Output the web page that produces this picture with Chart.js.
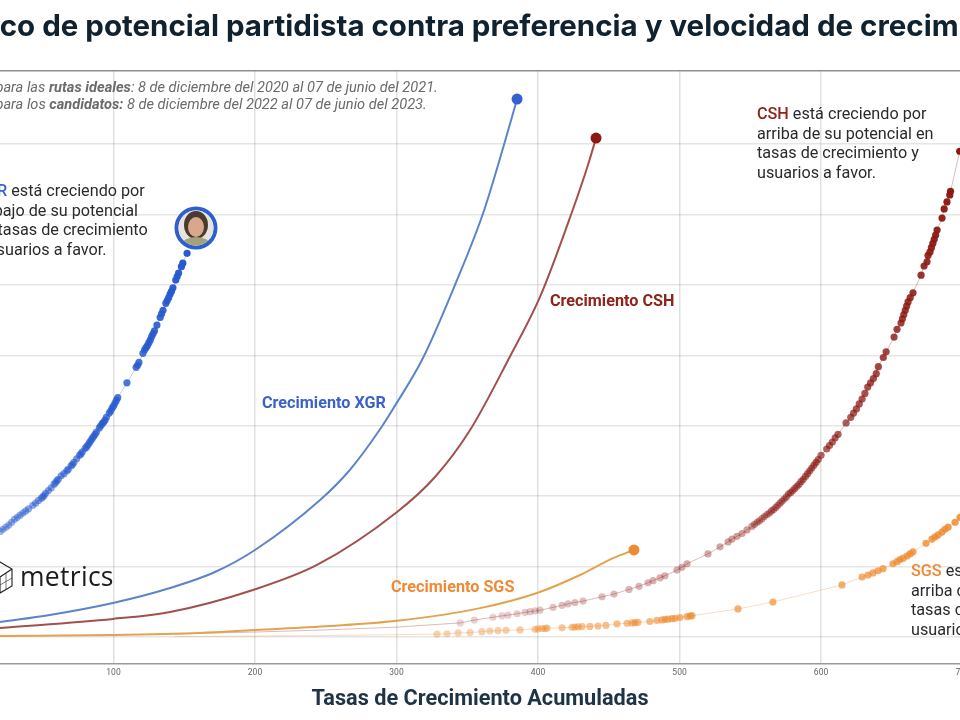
<!DOCTYPE html>
<html lang="es">
<head>
<meta charset="utf-8">
<title>Gráfico de potencial partidista</title>
<script src="https://cdn.jsdelivr.net/npm/chart.js@4"></script>
<style>
  html, body { margin: 0; padding: 0; background: #fff; }
  #wrap { position: relative; width: 960px; height: 720px; overflow: hidden; font-family: Roboto, sans-serif; }
  canvas { position: absolute; left: 0; top: 0; }
  .note, .label, .sub, .brand, .title { position: absolute; white-space: nowrap; }
  .title { left: 480px; top: 7px; transform: translateX(-50%); font: 700 29.5px/37px Inter, sans-serif; color: #10222f; }
  .note { font-size: 16.2px; line-height: 19.6px; color: #2b2b2b; }
  .label { font-size: 16.2px; font-weight: 700; }
  .sub { left: -45px; top: 79px; font-size: 14.6px; line-height: 17px; font-style: italic; color: #6b6b6b; }
  .brand { left: 20px; top: 558px; font: 400 26.5px "Open Sans", sans-serif; color: #1c1c1c; letter-spacing: .3px; }
  .blue { color: #3a62c8; } .red { color: #8f2219; } .orange { color: #ee8a35; }
</style>
</head>
<body>
<div id="wrap">
  <canvas id="chart" width="960" height="720"></canvas>
  <div class="title">Gráfico de potencial partidista contra preferencia y velocidad de crecimiento</div>
  <div class="sub">Datos para las <b>rutas ideales</b>: 8 de diciembre del 2020 al 07 de junio del 2021.<br>Datos para los <b>candidatos:</b> 8 de diciembre del 2022 al 07 de junio del 2023.</div>
  <div class="note" style="left:-24px;top:181px"><b class="blue" style="font-weight:500">XGR</b> está creciendo por<br>debajo de su potencial<br>en tasas de crecimiento<br>y usuarios a favor.</div>
  <div class="note" style="left:757px;top:104px"><b class="red" style="font-weight:500">CSH</b> está creciendo por<br>arriba de su potencial en<br>tasas de crecimiento y<br>usuarios a favor.</div>
  <div class="note" style="left:911px;top:561px"><b class="orange" style="font-weight:500">SGS</b> está creciendo por<br>arriba de su potencial en<br>tasas de crecimiento y<br>usuarios a favor.</div>
  <div class="label blue" style="left:262px;top:393px">Crecimiento XGR</div>
  <div class="label red" style="left:550px;top:291px">Crecimiento CSH</div>
  <div class="label orange" style="left:391px;top:577px">Crecimiento SGS</div>
  <svg style="position:absolute;left:-14px;top:560px" width="28" height="35" viewBox="-14 560 28 35" fill="none" stroke="#222" stroke-width="1.1">
    <path d="M0 562L12 569V586L0 593L-12 586V569ZM0 577L12 569M0 577L-12 569M0 577V593"/>
    <path d="M6 573V589M-6 573V589M0 585L12 578" stroke-width=".6"/>
  </svg>
  <div class="brand">metrics</div>
</div>
<script>
const xAxisTitle = 'Tasas de Crecimiento Acumuladas';
const xMin = 19.8, xMax = 698.2, yMin = -38.4, yMax = 804;
const xTicks = [100, 200, 300, 400, 500, 600, 700];
const yTicks = [0, 100, 200, 300, 400, 500, 600, 700, 804];

// rutas ideales
const idealXgrX = [19.8, 55, 99.6, 140, 171.7, 200, 246, 267, 288, 297.5, 318.7, 341.3, 361, 375.3, 385.2];
const idealXgrY = [21.3, 31.3, 48.3, 69.6, 92.3, 123.6, 194.6, 237.2, 294, 323.9, 396.3, 500, 600.9, 694.6, 764.2];
const idealCshX = [19.8, 99.6, 140, 198.6, 243.8, 300.4, 327.2, 352, 380, 401.4, 424, 435.3, 441];
const idealCshY = [12.8, 25.6, 35.5, 66.8, 102.3, 177.6, 227.3, 294, 397.7, 483, 603.7, 670.5, 708.8];
const idealSgsX = [19.8, 99.6, 161, 200, 253, 300.4, 359, 399.3, 429.7, 453, 467.8];
const idealSgsY = [1.4, 2.8, 5.7, 9.9, 15.6, 23, 41, 62.5, 88, 112, 123.6];

// candidatos
const xgrX = [20, 22, 24, 26, 28, 30, 32, 34, 36, 38, 40, 43, 45, 47, 49, 50, 51, 52, 54, 56, 58, 59, 60, 61, 63, 65, 67, 68, 70, 71, 72, 74, 76, 77, 78, 80, 81, 82, 83, 84, 85, 86, 87, 88, 90, 91, 92, 93, 94, 95, 97, 98, 99, 100, 101, 102, 103, 109.5, 116, 117, 118, 120.8, 122, 123, 124, 125, 126, 127, 128, 129, 130.7, 133, 134, 135, 137, 138, 139, 140, 141, 142, 144, 145, 146, 148, 149, 152];
const xgrY = [150, 153, 156, 159, 163, 167, 170, 173, 176, 179, 182, 187, 190, 194, 197, 199, 201, 204, 208, 212, 217, 219, 222, 224, 229, 232, 236, 238, 243, 245, 248, 253, 258, 260, 263, 268, 270, 273, 276, 279, 282, 285, 288, 291, 297, 300, 303, 305, 308, 312, 318, 321, 325, 328, 332, 336, 340, 361, 383, 386, 390, 403, 408, 411, 414, 418, 422, 427, 431, 435, 443, 454, 459, 464, 474, 478, 482, 487, 491, 496, 507, 512, 517, 526, 531, 545];
const cshX = [143.5, 200, 250, 300, 330, 345, 355, 368.2, 374.5, 378.8, 385.2, 390.8, 394.4, 397.9, 401.4, 410.6, 417, 421.2, 426.1, 431.8, 445.2, 453.7, 464.3, 471.4, 477.7, 481.3, 486.2, 489.7, 498.2, 501.7, 505.3, 520.1, 528.6, 534.3, 537.1, 540.6, 544.2, 547.7, 551.2, 553, 554.8, 556.5, 558.3, 560, 561.8, 563.5, 565, 566.5, 568, 569.5, 571, 572.5, 574, 575.5, 577, 578.5, 580, 581.5, 583, 584.5, 586, 587.5, 589, 590.5, 592, 593.5, 595, 596.5, 598, 600, 604, 606, 608, 610, 612, 617.7, 621, 623, 625, 627, 629, 631, 633, 635, 637, 639, 640.5, 644, 646, 651.6, 653.7, 656.5, 657.5, 658.5, 659.5, 660.5, 661.5, 663, 665, 670.7, 672.8, 674.9, 675.6, 677, 678, 679, 680, 681, 682, 685.5, 687, 689, 691, 691.5, 698];
const cshY = [4.3, 7, 10, 14, 18, 20, 24, 28, 30, 31, 33, 35, 36, 37, 38, 42, 45, 47, 49, 51, 57, 61, 67.5, 72, 77, 80, 84, 87, 95, 99, 104, 118, 128, 135, 139, 143, 147, 152, 157, 160, 163, 165, 168, 171, 174, 176, 179, 181, 184, 187, 190, 193, 196, 199, 203, 205, 208, 211, 214, 217, 221, 224, 228, 232, 236, 240, 244, 248, 252, 258, 267, 272, 277, 283, 288, 304, 312, 318, 324, 331, 338, 346, 355, 361, 367, 374, 384, 397, 405, 426, 437, 446, 452, 458, 464, 470, 476, 482, 489, 514, 527, 533, 542, 547, 553, 559, 565, 571, 578, 595, 608, 618, 628, 633, 690];
const sgsX = [143, 250, 328.6, 335.7, 343.5, 352, 360.4, 366, 371.7, 377.4, 387.3, 397.9, 400, 402.8, 405, 406.4, 417, 424, 426.1, 428.3, 431.1, 436.7, 442.4, 448, 455.8, 462.9, 466.4, 468.5, 470.6, 479, 484, 487.6, 489.7, 491.8, 494.6, 496.8, 500.3, 505.3, 507.4, 508.8, 541.3, 566, 614.8, 629, 633.2, 636.7, 640.3, 643.8, 650.8, 653.7, 655.8, 658, 660.8, 662.9, 665, 674.2, 678.4, 680.5, 682.7, 685.5, 687.6, 689.8, 694.7, 698.2];
const sgsY = [0.5, 2, 4, 4.6, 5.7, 6.3, 7.5, 8.5, 9, 9.5, 10, 11, 11.5, 12, 12, 12.5, 13, 13.8, 14, 14.2, 14.7, 15, 15.6, 16.5, 18.5, 19.5, 20, 20.5, 20.8, 22, 23.5, 24.2, 25, 25.3, 26, 26.5, 27.5, 29, 29.8, 30.2, 39.8, 49.7, 73.9, 85.2, 88, 91, 94, 97, 104, 107, 110, 112, 115, 118, 121, 133, 139, 142, 145, 149, 153, 156, 163, 170];
const xgrPhotoX = [158.3];
const xgrPhotoY = [581];

const toPoints = (xs, ys) => xs.map((x, i) => ({ x: x, y: ys[i] }));

function idealLine(xs, ys, lineColor, dotColor) {
  const last = xs.length - 1;
  return {
    data: toPoints(xs, ys),
    showLine: true,
    borderColor: lineColor,
    borderWidth: 2,
    cubicInterpolationMode: 'monotone',
    pointRadius: ctx => ctx.dataIndex === last ? 5.5 : 0,
    pointBackgroundColor: dotColor,
    pointBorderWidth: 0
  };
}

// lineOnly: the first few values only carry the thin line, no dot
function candidate(xs, ys, rgb, lo, hi, lineOnly) {
  const last = xs.length - 1;
  return {
    data: toPoints(xs, ys),
    showLine: true,
    borderColor: `rgba(${rgb},0.3)`,
    borderWidth: 1,
    pointRadius: ctx => ctx.dataIndex < lineOnly ? 0 : 3.6,
    pointBorderWidth: 0,
    pointBackgroundColor: ctx => `rgba(${rgb},${lo + (hi - lo) * ctx.dataIndex / last})`
  };
}

// foto de la candidata, dentro del aro del ultimo punto
const portrait = {
  id: 'portrait',
  afterDatasetsDraw(chart) {
    const x = chart.scales.x.getPixelForValue(xgrPhotoX[0]);
    const y = chart.scales.y.getPixelForValue(xgrPhotoY[0]);
    const c = chart.ctx;
    c.save();
    c.beginPath();
    c.arc(x, y, 17.5, 0, Math.PI * 2);
    c.clip();
    c.fillStyle = '#e6e4dc';
    c.fillRect(x - 18, y - 18, 36, 36);
    c.fillStyle = '#4b3a30';
    c.beginPath();
    c.ellipse(x, y - 3, 12, 14, 0, 0, Math.PI * 2);
    c.fill();
    c.fillStyle = '#a3a37a';
    c.beginPath();
    c.ellipse(x, y + 18, 15, 9, 0, 0, Math.PI * 2);
    c.fill();
    c.fillStyle = '#d8a88c';
    c.beginPath();
    c.ellipse(x, y - 1, 8, 10, 0, 0, Math.PI * 2);
    c.fill();
    c.restore();
  }
};

new Chart(document.getElementById('chart'), {
  type: 'scatter',
  data: {
    datasets: [
      idealLine(idealXgrX, idealXgrY, '#5d84c9', '#3560d0'),
      idealLine(idealCshX, idealCshY, '#a2504e', '#8b1a14'),
      idealLine(idealSgsX, idealSgsY, '#e3a250', '#ee8a35'),
      candidate(sgsX, sgsY, '238,138,46', 0.35, 0.85, 2),
      candidate(cshX, cshY, '139,26,20', 0.15, 1, 5),
      candidate(xgrX, xgrY, '40,90,205', 0.45, 1, 0),
      {
        data: toPoints(xgrPhotoX, xgrPhotoY),
        pointRadius: 19.5,
        pointBackgroundColor: '#fff',
        pointBorderColor: '#2f5fcc',
        pointBorderWidth: 4
      }
    ]
  },
  plugins: [portrait],
  options: {
    responsive: false,
    animation: false,
    layout: { autoPadding: false, padding: { top: 71 } },
    plugins: {
      legend: { display: false },
      tooltip: { enabled: false },
      title: { display: false }
    },
    scales: {
      x: {
        type: 'linear',
        min: xMin,
        max: xMax,
        afterBuildTicks: s => { s.ticks = xTicks.map(v => ({ value: v })); },
        afterFit: s => { s.height = 56; s.paddingLeft = 0; s.paddingRight = 0; },
        grid: { color: 'rgba(0,0,0,0.12)', lineWidth: 1.5, drawTicks: false },
        border: { color: '#9a9a9a', width: 1.5 },
        ticks: { color: '#666', font: { family: 'Roboto', size: 8.5 }, padding: 4, maxRotation: 0, autoSkip: false },
        title: {
          display: true,
          text: xAxisTitle,
          color: '#1f3347',
          font: { family: 'Roboto', size: 21.7, weight: '700' },
          padding: { top: 0, bottom: 7 }
        }
      },
      y: {
        type: 'linear',
        min: yMin,
        max: yMax,
        afterBuildTicks: s => { s.ticks = yTicks.map(v => ({ value: v })); },
        afterFit: s => { s.width = 0; s.paddingTop = 0; s.paddingBottom = 0; },
        grid: {
          color: ctx => ctx.tick && ctx.tick.value === 804 ? '#8f8f8f' : 'rgba(0,0,0,0.1)',
          lineWidth: 1.5,
          drawTicks: false
        },
        border: { display: false },
        ticks: { display: false }
      }
    }
  }
});
</script>
</body>
</html>
